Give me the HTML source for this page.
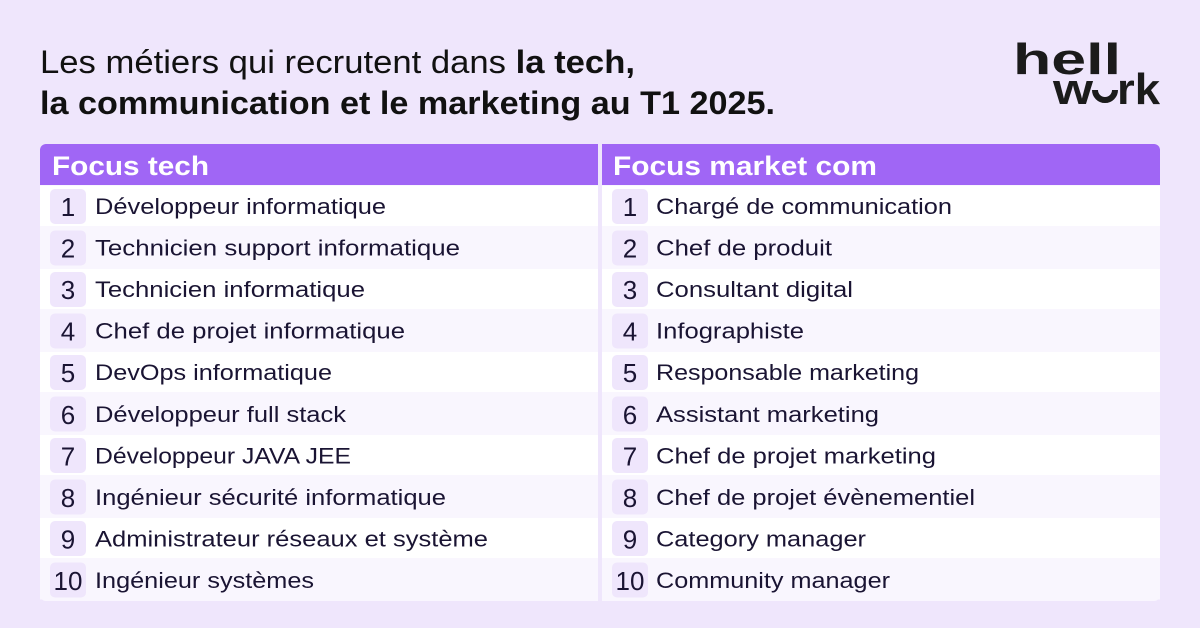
<!DOCTYPE html>
<html><head><meta charset="utf-8"><style>
html,body{margin:0;padding:0;background:#efe6fc;}
svg{display:block}
text{font-family:"Liberation Sans",sans-serif;}
</style></head><body>
<svg width="1200" height="628" viewBox="0 0 1200 628" xmlns="http://www.w3.org/2000/svg">
<rect width="1200" height="628" fill="#efe6fc"/>
<text x="40" y="73" font-size="32" fill="#111" textLength="595" lengthAdjust="spacingAndGlyphs">Les métiers qui recrutent dans <tspan font-weight="bold">la tech,</tspan></text>
<text x="40" y="114" font-size="32" font-weight="bold" fill="#111" textLength="735" lengthAdjust="spacingAndGlyphs">la communication et le marketing au T1 2025.</text>
<text x="1013" y="74" font-size="44" font-weight="bold" fill="#1b1b1b" textLength="108" lengthAdjust="spacingAndGlyphs">hell</text>
<path d="M1095 90 a10 10 0 0 0 20 0" fill="none" stroke="#1b1b1b" stroke-width="6"/>
<text x="1053" y="104" font-size="44" font-weight="bold" fill="#1b1b1b" textLength="40" lengthAdjust="spacingAndGlyphs">w</text>
<text x="1117" y="104" font-size="44" font-weight="bold" fill="#1b1b1b" textLength="43" lengthAdjust="spacingAndGlyphs">rk</text>
<rect x="40" y="144" width="1120" height="457" rx="6" fill="#f9f6fe"/>
<path d="M40 185 V150 a6 6 0 0 1 6 -6 H1154 a6 6 0 0 1 6 6 V185 Z" fill="#a066f5"/>
<rect x="598" y="144" width="4" height="457" fill="#efe6fc"/>
<text x="52" y="175" font-size="27" font-weight="bold" fill="#fff" textLength="157" lengthAdjust="spacingAndGlyphs">Focus tech</text>
<text x="613" y="175" font-size="27" font-weight="bold" fill="#fff" textLength="264" lengthAdjust="spacingAndGlyphs">Focus market com</text>
<g id="rows"></g>
</svg>
<script>
var L=[["Développeur informatique",386],["Technicien support informatique",460],["Technicien informatique",365],["Chef de projet informatique",405],["DevOps informatique",332],["Développeur full stack",346],["Développeur JAVA JEE",351],["Ingénieur sécurité informatique",446],["Administrateur réseaux et système",488],["Ingénieur systèmes",314]];
var R=[["Chargé de communication",952],["Chef de produit",832],["Consultant digital",853],["Infographiste",804],["Responsable marketing",919],["Assistant marketing",879],["Chef de projet marketing",936],["Chef de projet évènementiel",975],["Category manager",866],["Community manager",890]];
var g=document.getElementById('rows'),s='';
for(var i=0;i<10;i++){
 var ty=186+i*41.5,b=214+i*41.56;
 var fill=i%2==0?'#ffffff':'#f9f6fe';
 s+='<rect x="40" y="'+ty+'" width="558" height="40" fill="'+fill+'"/>';
 s+='<rect x="602" y="'+ty+'" width="558" height="40" fill="'+fill+'"/>';
 s+='<rect x="50" y="'+(ty+3)+'" width="36" height="35" rx="5" fill="#efe6fc"/>';
 s+='<rect x="612" y="'+(ty+3)+'" width="36" height="35" rx="5" fill="#efe6fc"/>';
 s+='<text x="68" y="'+(b+2)+'" font-size="26" fill="#1a1433" text-anchor="middle">'+(i+1)+'</text>';
 s+='<text x="630" y="'+(b+2)+'" font-size="26" fill="#1a1433" text-anchor="middle">'+(i+1)+'</text>';
 s+='<text x="95" y="'+b+'" font-size="22" fill="#1a1433" textLength="'+(L[i][1]-95)+'" lengthAdjust="spacingAndGlyphs">'+L[i][0]+'</text>';
 s+='<text x="656" y="'+b+'" font-size="22" fill="#1a1433" textLength="'+(R[i][1]-656)+'" lengthAdjust="spacingAndGlyphs">'+R[i][0]+'</text>';
}
g.innerHTML=s;
</script>
</body></html>
